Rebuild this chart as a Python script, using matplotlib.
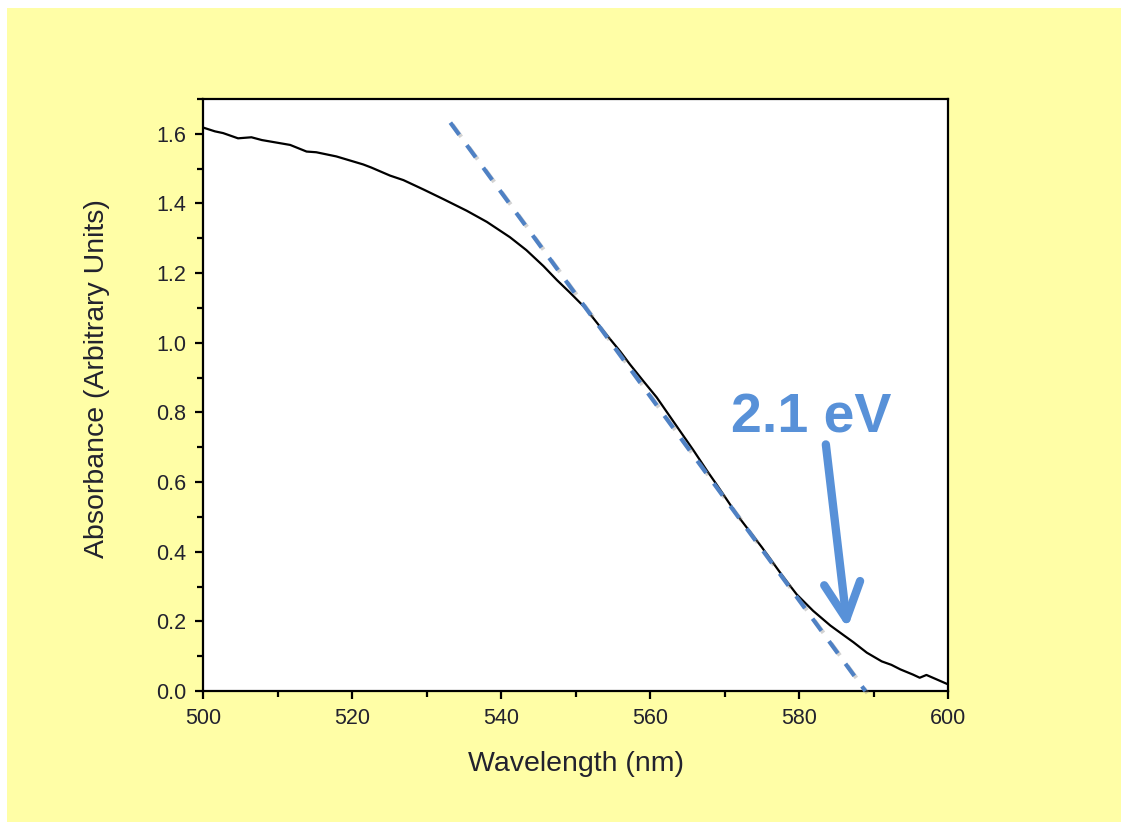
import matplotlib
matplotlib.use("Agg")
import matplotlib.pyplot as plt
import matplotlib.patheffects as pe
from matplotlib.patches import Rectangle
from matplotlib.ticker import MultipleLocator

# absorbance spectrum
wavelength = [500.0, 501.6, 502.7, 504.7, 506.5, 507.9, 511.7, 513.9, 515.2, 517.9,
              521.5, 522.6, 525.1, 526.9, 529.6, 532.3, 535.4, 538.1, 541.2, 543.4,
              545.7, 547.5, 549.2, 551.3, 553.7, 556.0, 557.3, 559.1, 560.9, 563.1,
              565.8, 567.6, 568.9, 570.7, 572.1, 573.6, 575.0, 577.9, 579.7,
              581.9, 584.2, 586.0, 587.3, 589.1, 591.1, 592.4, 593.6, 595.3, 596.2,
              597.1, 598.5, 600.0]
absorbance = [1.618, 1.607, 1.602, 1.587, 1.590, 1.582, 1.568, 1.549, 1.547, 1.535,
              1.512, 1.503, 1.480, 1.467, 1.440, 1.412, 1.379, 1.347, 1.303, 1.266,
              1.220, 1.180, 1.145, 1.100, 1.035, 0.975, 0.938, 0.890, 0.843, 0.775,
              0.692, 0.634, 0.594, 0.537, 0.494, 0.452, 0.413, 0.327, 0.277,
              0.230, 0.188, 0.160, 0.140, 0.110, 0.085, 0.075, 0.062, 0.047, 0.038,
              0.046, 0.033, 0.019]

# tangent line (band-edge extrapolation)
tangent_x = [533.2, 588.9]
tangent_y = [1.632, 0.0]

label_text = "2.1 eV"
label_xy = (581.6, 0.743)
arrow_start = (583.6, 0.708)
arrow_tip = (586.5, 0.180)

YELLOW = "#FFFEA6"
DASH_BLUE = "#4F81C4"
TEXT_BLUE = "#5891D8"
TICK_COLOR = "#22222E"

plt.rcParams["font.family"] = ["Liberation Sans", "DejaVu Sans"]

fig = plt.figure(figsize=(11.21, 8.22), dpi=100)
fig.patch.set_facecolor("white")
fig.patches.append(Rectangle((7 / 1121, 0), 1, 1 - 8 / 822, transform=fig.transFigure,
                             facecolor=YELLOW, edgecolor="none", zorder=-10))

ax = fig.add_axes([0.1811, 0.1594, 0.6646, 0.7202])
ax.set_facecolor("white")

ax.plot(wavelength, absorbance, color="black", lw=1.6, zorder=3)
ax.plot(tangent_x, tangent_y, color=DASH_BLUE, lw=3, dashes=(3.6, 3.1),
        solid_capstyle="butt", dash_capstyle="butt", zorder=4, clip_on=False,
        path_effects=[pe.SimpleLineShadow(offset=(1.5, -1.5), shadow_color="grey", alpha=0.35),
                      pe.Normal()])

ax.text(label_xy[0], label_xy[1], label_text, color=TEXT_BLUE, fontsize=40,
        fontweight="bold", ha="center", va="baseline", zorder=5)
ax.annotate("", xy=arrow_tip, xytext=arrow_start,
            arrowprops=dict(arrowstyle="->, head_length=1.3, head_width=0.65",
                            color=TEXT_BLUE, lw=6, shrinkA=0, shrinkB=0,
                            mutation_scale=20, capstyle="round", joinstyle="round"),
            zorder=5)

ax.set_xlim(500, 600)
ax.set_ylim(0, 1.7)
ax.xaxis.set_major_locator(MultipleLocator(20))
ax.xaxis.set_minor_locator(MultipleLocator(10))
ax.yaxis.set_major_locator(MultipleLocator(0.2))
ax.yaxis.set_minor_locator(MultipleLocator(0.1))
ax.yaxis.set_major_formatter(plt.FormatStrFormatter("%.1f"))

for sp in ax.spines.values():
    sp.set_linewidth(1.6)
    sp.set_color("black")
ax.tick_params(which="both", direction="out", top=False, right=False, width=1.6,
               color="black", labelsize=15.5, labelcolor=TICK_COLOR)
ax.tick_params(which="major", length=6, pad=6)
ax.tick_params(which="minor", length=4)

ax.set_xlabel("Wavelength (nm)", fontsize=20.5, color=TICK_COLOR)
ax.set_ylabel("Absorbance (Arbitrary Units)", fontsize=20.5, color=TICK_COLOR)
ax.xaxis.set_label_coords(0.5, -0.102)
ax.yaxis.set_label_coords(-0.142, 0.527)
ax.yaxis.label.set_verticalalignment("center")

fig.savefig("out.png", dpi=100, facecolor=fig.get_facecolor())
